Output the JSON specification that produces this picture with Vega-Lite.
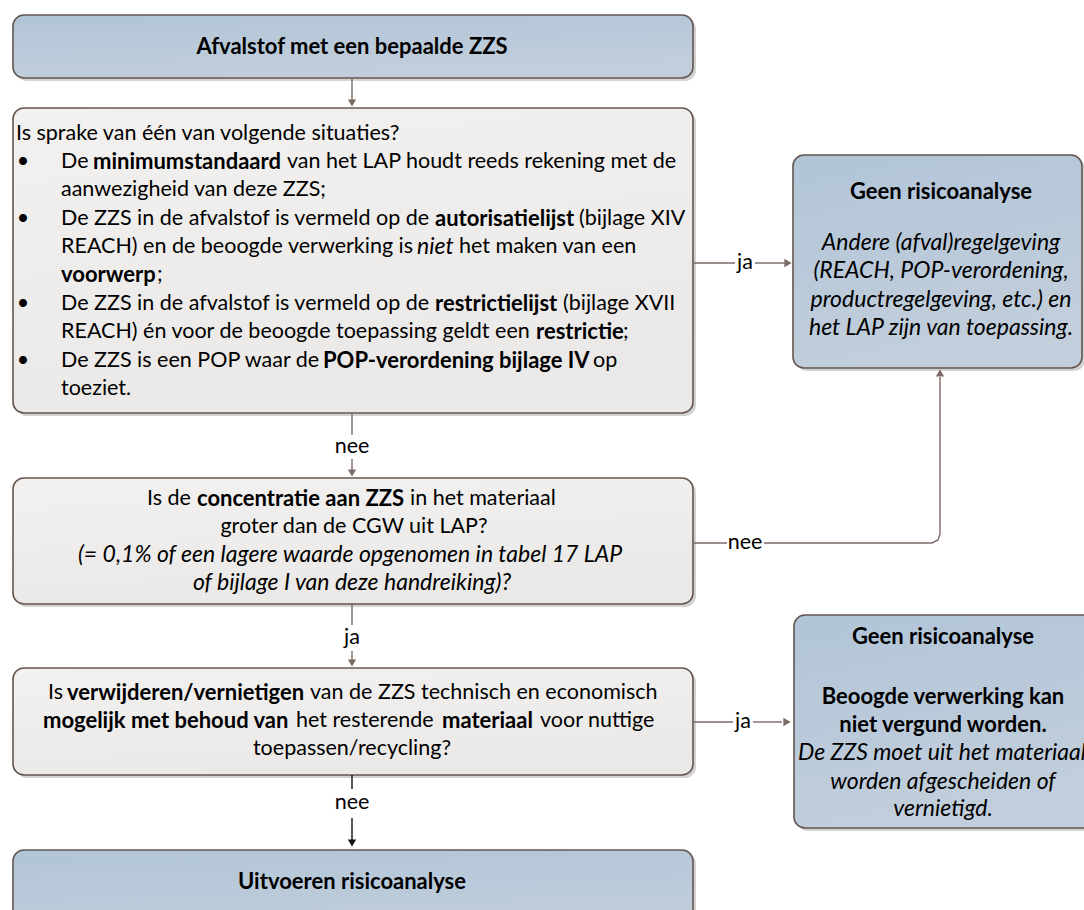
{
  "$schema": "https://vega.github.io/schema/vega-lite/v6.json",
  "width": 1084,
  "height": 910,
  "autosize": "none",
  "padding": 0,
  "background": "white",
  "config": {"view": {"stroke": null}},
  "datasets": {
    "boxes": [
      {"id": "b1", "kind": "blue", "x0": 13, "x1": 693, "y0": 15, "y1": 78},
      {"id": "b2", "kind": "gray", "x0": 13, "x1": 693, "y0": 108, "y1": 413},
      {"id": "b3", "kind": "gray", "x0": 13, "x1": 693, "y0": 478, "y1": 604},
      {"id": "b4", "kind": "gray", "x0": 13, "x1": 693, "y0": 668, "y1": 775},
      {"id": "b5", "kind": "blue", "x0": 13, "x1": 693, "y0": 850, "y1": 940},
      {"id": "r1", "kind": "blue", "x0": 793, "x1": 1082, "y0": 155, "y1": 368},
      {"id": "r2", "kind": "blue", "x0": 794, "x1": 1110, "y0": 615, "y1": 828}
    ],
    "links": [
      {"seg": "a1", "kind": "main", "i": 0, "x": 352, "y": 78},
      {"seg": "a1", "kind": "main", "i": 1, "x": 352, "y": 102},
      {"seg": "a2", "kind": "main", "i": 0, "x": 693, "y": 263},
      {"seg": "a2", "kind": "main", "i": 1, "x": 735, "y": 263},
      {"seg": "a3", "kind": "main", "i": 0, "x": 755, "y": 263},
      {"seg": "a3", "kind": "main", "i": 1, "x": 785, "y": 263},
      {"seg": "a4", "kind": "main", "i": 0, "x": 352, "y": 413},
      {"seg": "a4", "kind": "main", "i": 1, "x": 352, "y": 435},
      {"seg": "a5", "kind": "main", "i": 0, "x": 352, "y": 459},
      {"seg": "a5", "kind": "main", "i": 1, "x": 352, "y": 471},
      {"seg": "a6", "kind": "main", "i": 0, "x": 693, "y": 543},
      {"seg": "a6", "kind": "main", "i": 1, "x": 727, "y": 543},
      {"seg": "a7", "kind": "main", "i": 0, "x": 764, "y": 543},
      {"seg": "a7", "kind": "main", "i": 1, "x": 932, "y": 543},
      {"seg": "a7", "kind": "main", "i": 2, "x": 938, "y": 540},
      {"seg": "a7", "kind": "main", "i": 3, "x": 940, "y": 534},
      {"seg": "a7", "kind": "main", "i": 4, "x": 940, "y": 377},
      {"seg": "a8", "kind": "main", "i": 0, "x": 352, "y": 604},
      {"seg": "a8", "kind": "main", "i": 1, "x": 352, "y": 625},
      {"seg": "a9", "kind": "main", "i": 0, "x": 352, "y": 651},
      {"seg": "a9", "kind": "main", "i": 1, "x": 352, "y": 661},
      {"seg": "a10", "kind": "main", "i": 0, "x": 693, "y": 722},
      {"seg": "a10", "kind": "main", "i": 1, "x": 733, "y": 722},
      {"seg": "a11", "kind": "main", "i": 0, "x": 753, "y": 722},
      {"seg": "a11", "kind": "main", "i": 1, "x": 782, "y": 722},
      {"seg": "a12", "kind": "final", "i": 0, "x": 352, "y": 775},
      {"seg": "a12", "kind": "final", "i": 1, "x": 352, "y": 789},
      {"seg": "a13", "kind": "final", "i": 0, "x": 352, "y": 818},
      {"seg": "a13", "kind": "final", "i": 1, "x": 352, "y": 840}
    ],
    "heads": [
      {"kind": "main", "dir": "down", "x": 352, "y": 103},
      {"kind": "main", "dir": "right", "x": 788, "y": 263},
      {"kind": "main", "dir": "down", "x": 352, "y": 473},
      {"kind": "main", "dir": "up", "x": 940, "y": 373},
      {"kind": "main", "dir": "down", "x": 352, "y": 663},
      {"kind": "main", "dir": "right", "x": 787, "y": 722},
      {"kind": "final", "dir": "down", "x": 352, "y": 843}
    ],
    "texts": [
      {"st": "b", "al": "c", "x": 352, "y": 47, "t": "Afvalstof met een bepaalde ZZS"},
      {"st": "n", "al": "l", "x": 16, "y": 134, "t": "Is sprake van één van volgende situaties?"},
      {"st": "n", "al": "c", "x": 23, "y": 162, "t": "•"},
      {"st": "n", "al": "c", "x": 23, "y": 219, "t": "•"},
      {"st": "n", "al": "c", "x": 23, "y": 304, "t": "•"},
      {"st": "n", "al": "c", "x": 23, "y": 361, "t": "•"},
      {"st": "n", "al": "l", "x": 61, "y": 162, "t": "De"},
      {"st": "b", "al": "l", "x": 93, "y": 162, "t": "minimumstandaard"},
      {"st": "n", "al": "l", "x": 287, "y": 162, "t": "van het LAP houdt reeds rekening met de"},
      {"st": "n", "al": "l", "x": 61, "y": 190, "t": "aanwezigheid van deze ZZS;"},
      {"st": "n", "al": "l", "x": 61, "y": 219, "t": "De ZZS in de afvalstof is vermeld op de"},
      {"st": "b", "al": "l", "x": 435, "y": 219, "t": "autorisatielijst"},
      {"st": "n", "al": "l", "x": 579, "y": 219, "t": "(bijlage XIV"},
      {"st": "n", "al": "l", "x": 61, "y": 247, "t": "REACH) en de beoogde verwerking is"},
      {"st": "i", "al": "l", "x": 417, "y": 247, "t": "niet"},
      {"st": "n", "al": "l", "x": 459, "y": 247, "t": "het maken van een"},
      {"st": "b", "al": "l", "x": 61, "y": 275, "t": "voorwerp"},
      {"st": "n", "al": "l", "x": 157, "y": 275, "t": ";"},
      {"st": "n", "al": "l", "x": 61, "y": 304, "t": "De ZZS in de afvalstof is vermeld op de"},
      {"st": "b", "al": "l", "x": 435, "y": 304, "t": "restrictielijst"},
      {"st": "n", "al": "l", "x": 563, "y": 304, "t": "(bijlage XVII"},
      {"st": "n", "al": "l", "x": 61, "y": 332, "t": "REACH) én voor de beoogde toepassing geldt een"},
      {"st": "b", "al": "l", "x": 536, "y": 332, "t": "restrictie"},
      {"st": "n", "al": "l", "x": 623, "y": 332, "t": ";"},
      {"st": "n", "al": "l", "x": 61, "y": 361, "t": "De ZZS is een POP waar de"},
      {"st": "b", "al": "l", "x": 323, "y": 361, "t": "POP-verordening bijlage IV"},
      {"st": "n", "al": "l", "x": 593, "y": 361, "t": "op"},
      {"st": "n", "al": "l", "x": 61, "y": 389, "t": "toeziet."},
      {"st": "n", "al": "l", "x": 147, "y": 499, "t": "Is de"},
      {"st": "b", "al": "l", "x": 197, "y": 499, "t": "concentratie aan ZZS"},
      {"st": "n", "al": "l", "x": 410, "y": 499, "t": "in het materiaal"},
      {"st": "n", "al": "c", "x": 354, "y": 527, "t": "groter dan de CGW uit LAP?"},
      {"st": "i", "al": "c", "x": 350, "y": 555, "t": "(= 0,1% of een lagere waarde opgenomen in tabel 17 LAP"},
      {"st": "i", "al": "c", "x": 352, "y": 583, "t": "of bijlage I van deze handreiking)?"},
      {"st": "n", "al": "l", "x": 48, "y": 693, "t": "Is"},
      {"st": "b", "al": "l", "x": 67, "y": 693, "t": "verwijderen/vernietigen"},
      {"st": "n", "al": "l", "x": 310, "y": 693, "t": "van de ZZS technisch en economisch"},
      {"st": "b", "al": "l", "x": 43, "y": 721, "t": "mogelijk met behoud van"},
      {"st": "n", "al": "l", "x": 296, "y": 721, "t": "het resterende"},
      {"st": "b", "al": "l", "x": 442, "y": 721, "t": "materiaal"},
      {"st": "n", "al": "l", "x": 540, "y": 721, "t": "voor nuttige"},
      {"st": "n", "al": "c", "x": 352, "y": 749, "t": "toepassen/recycling?"},
      {"st": "b", "al": "c", "x": 352, "y": 882, "t": "Uitvoeren risicoanalyse"},
      {"st": "b", "al": "c", "x": 941, "y": 192, "t": "Geen risicoanalyse"},
      {"st": "i", "al": "c", "x": 941, "y": 243, "t": "Andere (afval)regelgeving"},
      {"st": "i", "al": "c", "x": 941, "y": 271, "t": "(REACH, POP-verordening,"},
      {"st": "i", "al": "c", "x": 941, "y": 300, "t": "productregelgeving, etc.) en"},
      {"st": "i", "al": "c", "x": 941, "y": 328, "t": "het LAP zijn van toepassing."},
      {"st": "b", "al": "c", "x": 943, "y": 637, "t": "Geen risicoanalyse"},
      {"st": "b", "al": "c", "x": 943, "y": 697, "t": "Beoogde verwerking kan"},
      {"st": "b", "al": "c", "x": 943, "y": 725, "t": "niet vergund worden."},
      {"st": "i", "al": "c", "x": 942, "y": 753, "t": "De ZZS moet uit het materiaal"},
      {"st": "i", "al": "c", "x": 943, "y": 782, "t": "worden afgescheiden of"},
      {"st": "i", "al": "c", "x": 943, "y": 809, "t": "vernietigd."},
      {"st": "n", "al": "c", "x": 745, "y": 263, "t": "ja"},
      {"st": "n", "al": "c", "x": 352, "y": 447, "t": "nee"},
      {"st": "n", "al": "c", "x": 745, "y": 543, "t": "nee"},
      {"st": "n", "al": "c", "x": 352, "y": 638, "t": "ja"},
      {"st": "n", "al": "c", "x": 743, "y": 722, "t": "ja"},
      {"st": "n", "al": "c", "x": 352, "y": 803, "t": "nee"}
    ]
  },
  "layer": [
    {
      "data": {"name": "boxes"},
      "mark": {"type": "rect", "cornerRadius": 11, "color": "#7d7d7d", "opacity": 0.35, "xOffset": 3, "x2Offset": 3, "yOffset": 3, "y2Offset": 3, "clip": true},
      "encoding": {
        "x": {"field": "x0", "type": "quantitative", "scale": {"domain": [0, 1084], "nice": false, "zero": false}, "axis": null},
        "x2": {"field": "x1"},
        "y": {"field": "y0", "type": "quantitative", "scale": {"domain": [0, 910], "nice": false, "zero": false, "reverse": true}, "axis": null},
        "y2": {"field": "y1"}
      }
    },
    {
      "data": {"name": "boxes"},
      "transform": [{"filter": "datum.kind === 'blue'"}],
      "mark": {"type": "rect", "cornerRadius": 11, "clip": true, "stroke": "#64554f", "strokeWidth": 1.6,
        "fill": {"gradient": "linear", "x1": 0, "y1": 0, "x2": 0.3, "y2": 1, "stops": [{"offset": 0, "color": "#b1c5d8"}, {"offset": 1, "color": "#c2cedb"}]}},
      "encoding": {
        "x": {"field": "x0", "type": "quantitative"},
        "x2": {"field": "x1"},
        "y": {"field": "y0", "type": "quantitative"},
        "y2": {"field": "y1"}
      }
    },
    {
      "data": {"name": "boxes"},
      "transform": [{"filter": "datum.kind === 'gray'"}],
      "mark": {"type": "rect", "cornerRadius": 11, "clip": true, "stroke": "#64554f", "strokeWidth": 1.6,
        "fill": {"gradient": "linear", "x1": 0, "y1": 0, "x2": 0.3, "y2": 1, "stops": [{"offset": 0, "color": "#f2f1ef"}, {"offset": 1, "color": "#ebe9e7"}]}},
      "encoding": {
        "x": {"field": "x0", "type": "quantitative"},
        "x2": {"field": "x1"},
        "y": {"field": "y0", "type": "quantitative"},
        "y2": {"field": "y1"}
      }
    },
    {
      "data": {"name": "links"},
      "mark": {"type": "line", "strokeWidth": 1.4, "interpolate": "linear"},
      "encoding": {
        "x": {"field": "x", "type": "quantitative"},
        "y": {"field": "y", "type": "quantitative"},
        "detail": {"field": "seg"},
        "order": {"field": "i", "type": "quantitative"},
        "color": {"field": "kind", "type": "nominal", "scale": {"domain": ["main", "final"], "range": ["#7b6a65", "#111111"]}, "legend": null}
      }
    },
    {
      "data": {"name": "heads"},
      "mark": {"type": "point", "filled": true, "size": 70, "opacity": 1},
      "encoding": {
        "x": {"field": "x", "type": "quantitative"},
        "y": {"field": "y", "type": "quantitative"},
        "shape": {"field": "dir", "type": "nominal", "scale": {"domain": ["down", "right", "up"], "range": ["triangle-down", "triangle-right", "triangle-up"]}, "legend": null},
        "color": {"field": "kind", "type": "nominal", "scale": {"domain": ["main", "final"], "range": ["#7b6a65", "#111111"]}, "legend": null}
      }
    },
    {
      "data": {"name": "texts"},
      "transform": [{"filter": "datum.st === 'n' && datum.al === 'l'"}],
      "mark": {"type": "text", "align": "left", "baseline": "middle", "font": "Lato", "fontSize": 21.5, "color": "#000000", "clip": true},
      "encoding": {"x": {"field": "x", "type": "quantitative"}, "y": {"field": "y", "type": "quantitative"}, "text": {"field": "t"}}
    },
    {
      "data": {"name": "texts"},
      "transform": [{"filter": "datum.st === 'b' && datum.al === 'l'"}],
      "mark": {"type": "text", "align": "left", "baseline": "middle", "font": "Lato", "fontSize": 22, "fontWeight": "bold", "color": "#000000", "clip": true},
      "encoding": {"x": {"field": "x", "type": "quantitative"}, "y": {"field": "y", "type": "quantitative"}, "text": {"field": "t"}}
    },
    {
      "data": {"name": "texts"},
      "transform": [{"filter": "datum.st === 'i' && datum.al === 'l'"}],
      "mark": {"type": "text", "align": "left", "baseline": "middle", "font": "Lato", "fontSize": 23, "fontStyle": "italic", "color": "#000000", "clip": true},
      "encoding": {"x": {"field": "x", "type": "quantitative"}, "y": {"field": "y", "type": "quantitative"}, "text": {"field": "t"}}
    },
    {
      "data": {"name": "texts"},
      "transform": [{"filter": "datum.st === 'n' && datum.al === 'c'"}],
      "mark": {"type": "text", "align": "center", "baseline": "middle", "font": "Lato", "fontSize": 21.5, "color": "#000000", "clip": true},
      "encoding": {"x": {"field": "x", "type": "quantitative"}, "y": {"field": "y", "type": "quantitative"}, "text": {"field": "t"}}
    },
    {
      "data": {"name": "texts"},
      "transform": [{"filter": "datum.st === 'b' && datum.al === 'c'"}],
      "mark": {"type": "text", "align": "center", "baseline": "middle", "font": "Lato", "fontSize": 22, "fontWeight": "bold", "color": "#000000", "clip": true},
      "encoding": {"x": {"field": "x", "type": "quantitative"}, "y": {"field": "y", "type": "quantitative"}, "text": {"field": "t"}}
    },
    {
      "data": {"name": "texts"},
      "transform": [{"filter": "datum.st === 'i' && datum.al === 'c'"}],
      "mark": {"type": "text", "align": "center", "baseline": "middle", "font": "Lato", "fontSize": 23, "fontStyle": "italic", "color": "#000000", "clip": true},
      "encoding": {"x": {"field": "x", "type": "quantitative"}, "y": {"field": "y", "type": "quantitative"}, "text": {"field": "t"}}
    }
  ]
}
